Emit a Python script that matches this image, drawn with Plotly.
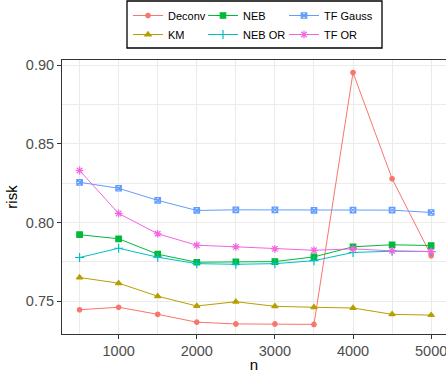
import plotly.graph_objects as go

n = [500, 1000, 1500, 2000, 2500, 3000, 3500, 4000, 4500, 5000]

deconv = [0.7446, 0.7462, 0.7417, 0.7367, 0.7356, 0.7356, 0.7353, 0.8953, 0.8279, 0.7790]
km = [0.7651, 0.7615, 0.7532, 0.7470, 0.7497, 0.7468, 0.7462, 0.7457, 0.7417, 0.7412]
neb = [0.7923, 0.7897, 0.7799, 0.7748, 0.7750, 0.7752, 0.7782, 0.7846, 0.7859, 0.7854]
neb_or = [0.7778, 0.7837, 0.7780, 0.7739, 0.7735, 0.7739, 0.7758, 0.7810, 0.7818, 0.7816]
tf_gauss = [0.8256, 0.8218, 0.8141, 0.8077, 0.8081, 0.8081, 0.8077, 0.8079, 0.8079, 0.8064]
tf_or = [0.8331, 0.8058, 0.7929, 0.7856, 0.7846, 0.7833, 0.7824, 0.7833, 0.7820, 0.7816]

series = [
    ("Deconv", deconv, "#F8766D", "circle", 4.5, "legend"),
    ("KM", km, "#B79F00", "triangle-up", 5.5, "legend"),
    ("NEB", neb, "#00BA38", "square", 5.5, "legend2"),
    ("NEB OR", neb_or, "#00BFC4", "cross-thin-open", 6.5, "legend2"),
    ("TF Gauss", tf_gauss, "#619CFF", "square-x-open", 5.5, "legend3"),
    ("TF OR", tf_or, "#F564E3", "asterisk-open", 6.5, "legend3"),
]

FONT = "Liberation Sans, Arial, sans-serif"
fig = go.Figure()
for name, ys, col, sym, sz, lg in series:
    fig.add_trace(go.Scatter(
        x=n, y=ys, name=name, mode="lines+markers",
        line=dict(color=col, width=1.0),
        marker=dict(symbol=sym, size=sz, color=col, line=dict(color=col, width=1.2)),
        legend=lg,
    ))

W, H = 446, 373
ml, mr, mt, mb = 62, 0, 60, 39
pw = W - ml - mr
ph = H - mt - mb

def px_x(p):
    return (p - ml) / pw

def px_y(p):
    return 1 + (mt - p) / ph

leg_common = dict(orientation="v", yanchor="middle", y=px_y(25), xanchor="left",
                  bgcolor="rgba(0,0,0,0)", borderwidth=0,
                  font=dict(family=FONT, size=11, color="black"))
fig.update_layout(
    width=W, height=H,
    margin=dict(l=ml, r=mr, t=mt, b=mb),
    paper_bgcolor="white", plot_bgcolor="white",
    font=dict(family=FONT),
    legend=dict(x=px_x(128), **leg_common),
    legend2=dict(x=px_x(203), **leg_common),
    legend3=dict(x=px_x(284), **leg_common),
    shapes=[dict(type="rect", xref="paper", yref="paper",
                 x0=px_x(127), x1=px_x(382), y0=px_y(48), y1=px_y(1),
                 line=dict(color="black", width=1.3), fillcolor="rgba(0,0,0,0)")],
)
fig.update_xaxes(
    range=[275, 5190], tickvals=[1000, 2000, 3000, 4000, 5000],
    ticks="outside", ticklen=4, tickcolor="#333333",
    tickfont=dict(family=FONT, size=14.5, color="#4D4D4D"),
    ticklabeloverflow="allow",
    showgrid=True, gridcolor="#EBEBEB", gridwidth=1,
    minor=dict(tickvals=[500, 1500, 2500, 3500, 4500], showgrid=True, gridcolor="#EBEBEB", gridwidth=1),
    showline=True, linecolor="#333333", linewidth=1, mirror=True,
    zeroline=False,
    title=dict(text="n", font=dict(family=FONT, size=15, color="black"), standoff=2),
)
fig.update_yaxes(
    range=[0.7292, 0.9033], tickvals=[0.75, 0.80, 0.85, 0.90], ticktext=["0.75", "0.80", "0.85", "0.90"],
    ticks="outside", ticklen=4, tickcolor="#333333",
    tickfont=dict(family=FONT, size=14.5, color="#4D4D4D"),
    showgrid=True, gridcolor="#EBEBEB", gridwidth=1,
    minor=dict(tickvals=[0.775, 0.825, 0.875], showgrid=True, gridcolor="#EBEBEB", gridwidth=1),
    showline=True, linecolor="#333333", linewidth=1,
    zeroline=False,
    title=dict(text="risk", font=dict(family=FONT, size=15, color="black"), standoff=4),
)
fig.write_html("out.html")
